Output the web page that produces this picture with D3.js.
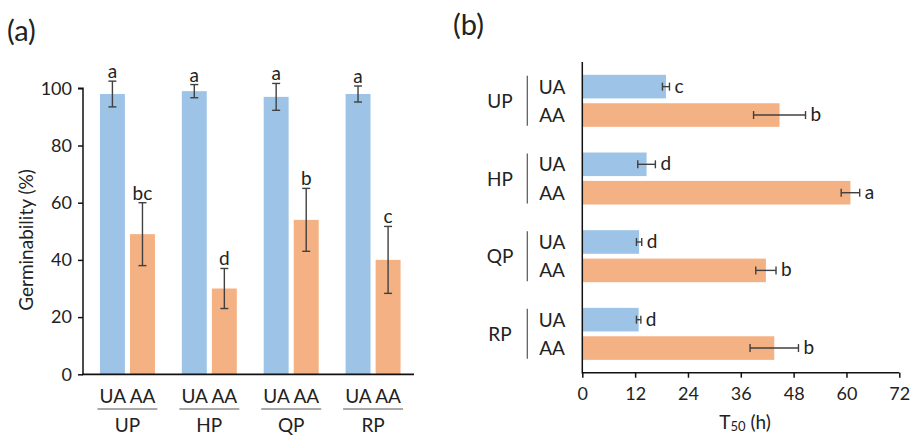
<!DOCTYPE html>
<html>
<head>
<meta charset="utf-8">
<script src="https://cdn.jsdelivr.net/npm/d3@7"></script>
<style>
  html, body { margin: 0; padding: 0; background: #fff; }
  svg { display: block; }
  text { font-family: Lato, "Open Sans", sans-serif; fill: #222; }
</style>
</head>
<body>
<svg id="chart" width="913" height="436"></svg>
<script>
// Seed lots and pre-treatments
const lots = ["UP", "HP", "QP", "RP"];
const treatments = ["UA", "AA"];

// (a) Germinability (%) — mean, error and significance letter per lot
const germUA = [98, 99, 97, 98];
const germUAErr = [4.5, 2.3, 4.7, 2.8];
const germUALetters = ["a", "a", "a", "a"];
const germAA = [49, 30, 54, 40];
const germAAErr = [11, 7, 11, 11.7];
const germAALetters = ["bc", "d", "b", "c"];
const germTicks = [0, 20, 40, 60, 80, 100];

// (b) T50 (h) — mean, error and significance letter per lot
const t50UA = [19, 14.6, 12.9, 12.8];
const t50UAErr = [0.8, 2, 0.6, 0.5];
const t50UALetters = ["c", "d", "d", "d"];
const t50AA = [44.8, 60.9, 41.7, 43.6];
const t50AAErr = [5.9, 2.1, 2.3, 5.5];
const t50AALetters = ["b", "a", "b", "b"];
const t50Ticks = [0, 12, 24, 36, 48, 60, 72];

const colors = { UA: "#9dc3e6", AA: "#f4b183" };
const errColor = "#404040";
const axisColor = "#111";
const FS = 18;

const svg = d3.select("#chart");

function rows(ua, uaErr, uaLab, aa, aaErr, aaLab) {
  const out = [];
  lots.forEach((lot, i) => {
    out.push({ lot, t: "UA", v: ua[i], e: uaErr[i], lab: uaLab[i] });
    out.push({ lot, t: "AA", v: aa[i], e: aaErr[i], lab: aaLab[i] });
  });
  return out;
}

// ---------- Panel (a): vertical bars ----------
{
  const data = rows(germUA, germUAErr, germUALetters, germAA, germAAErr, germAALetters);
  const x0 = d3.scaleBand().domain(lots).range([86.5, 414]).paddingInner(0).paddingOuter(0);
  const x1 = d3.scaleBand().domain(treatments).range([-27.5, 27.5]).paddingInner(0.17);
  const y = d3.scaleLinear().domain([0, 100]).range([374.3, 88.3]);
  const cx = d => x0(d.lot) + x0.bandwidth() / 2;

  const g = svg.append("g");

  g.selectAll("rect.bar").data(data).join("rect")
    .attr("class", "bar")
    .attr("x", d => cx(d) + x1(d.t))
    .attr("width", x1.bandwidth())
    .attr("y", d => y(d.v))
    .attr("height", d => y(0) - y(d.v))
    .attr("fill", d => colors[d.t]);

  const eb = g.selectAll("g.err").data(data).join("g").attr("class", "err")
    .attr("stroke", errColor).attr("stroke-width", 1.4);
  eb.append("line")
    .attr("x1", d => cx(d) + x1(d.t) + x1.bandwidth() / 2)
    .attr("x2", d => cx(d) + x1(d.t) + x1.bandwidth() / 2)
    .attr("y1", d => y(d.v + d.e)).attr("y2", d => y(d.v - d.e));
  [1, -1].forEach(s => {
    eb.append("line")
      .attr("x1", d => cx(d) + x1(d.t) + x1.bandwidth() / 2 - 4)
      .attr("x2", d => cx(d) + x1(d.t) + x1.bandwidth() / 2 + 4)
      .attr("y1", d => y(d.v + s * d.e)).attr("y2", d => y(d.v + s * d.e));
  });

  g.selectAll("text.sig").data(data).join("text")
    .attr("class", "sig")
    .attr("x", d => cx(d) + x1(d.t) + x1.bandwidth() / 2)
    .attr("y", d => y(d.v + d.e) - 3)
    .attr("text-anchor", "middle")
    .attr("font-size", 19)
    .text(d => d.lab);

  // y axis
  const ya = g.append("g").attr("transform", "translate(83,0)")
    .call(d3.axisLeft(y).tickValues(germTicks).tickSize(5).tickPadding(6));
  ya.select(".domain").attr("stroke", axisColor).attr("stroke-width", 1.5).attr("d", `M-5,${y(100)}H0V${y(0)}`);
  ya.selectAll(".tick line").attr("stroke", axisColor).attr("stroke-width", 1.5);
  ya.selectAll(".tick text").attr("font-size", FS).attr("fill", "#222")
    .style("font-family", "Lato, 'Open Sans', sans-serif");

  // x baseline
  g.append("line").attr("x1", 82).attr("x2", 414).attr("y1", y(0)).attr("y2", y(0))
    .attr("stroke", axisColor).attr("stroke-width", 1.8);

  // category labels: treatments, separator line, lot name
  const cat = g.selectAll("g.cat").data(lots).join("g").attr("class", "cat")
    .attr("transform", d => `translate(${x0(d) + x0.bandwidth() / 2},0)`);
  cat.append("text").attr("x", 0).attr("y", 403).attr("text-anchor", "middle")
    .attr("font-size", 19).text(treatments.join(" "));
  cat.append("line").attr("x1", -30).attr("x2", 30).attr("y1", 409).attr("y2", 409)
    .attr("stroke", "#555").attr("stroke-width", 1);
  cat.append("text").attr("x", 0).attr("y", 432).attr("text-anchor", "middle")
    .attr("font-size", 19).text(d => d);

  g.append("text")
    .attr("transform", "translate(33,240) rotate(-90)")
    .attr("text-anchor", "middle").attr("font-size", 19)
    .text("Germinability (%)");

  svg.append("text").attr("x", 7).attr("y", 41).attr("font-size", 29).text("(a)");
}

// ---------- Panel (b): horizontal bars ----------
{
  const data = rows(t50UA, t50UAErr, t50UALetters, t50AA, t50AAErr, t50AALetters);
  const y0 = d3.scaleBand().domain(lots).range([62, 372.7]);
  const y1 = d3.scaleBand().domain(treatments).range([-26, 26]).paddingInner(0.17);
  const x = d3.scaleLinear().domain([0, 72]).range([582.3, 899.3]);
  const cy = d => y0(d.lot) + y0.bandwidth() / 2;
  const mid = d => cy(d) + y1(d.t) + y1.bandwidth() / 2;

  const g = svg.append("g");

  g.selectAll("rect.bar").data(data).join("rect")
    .attr("class", "bar")
    .attr("x", x(0))
    .attr("width", d => x(d.v) - x(0))
    .attr("y", d => cy(d) + y1(d.t))
    .attr("height", y1.bandwidth())
    .attr("fill", d => colors[d.t]);

  const eb = g.selectAll("g.err").data(data).join("g").attr("class", "err")
    .attr("stroke", errColor).attr("stroke-width", 1.4);
  eb.append("line")
    .attr("x1", d => x(d.v - d.e)).attr("x2", d => x(d.v + d.e))
    .attr("y1", mid).attr("y2", mid);
  [1, -1].forEach(s => {
    eb.append("line")
      .attr("x1", d => x(d.v + s * d.e)).attr("x2", d => x(d.v + s * d.e))
      .attr("y1", d => mid(d) - 4).attr("y2", d => mid(d) + 4);
  });

  g.selectAll("text.sig").data(data).join("text")
    .attr("class", "sig")
    .attr("x", d => x(d.v + d.e) + 5)
    .attr("y", d => mid(d) + 6)
    .attr("font-size", 19)
    .text(d => d.lab);

  // x axis
  const xa = g.append("g").attr("transform", "translate(0,372.7)")
    .call(d3.axisBottom(x).tickValues(t50Ticks).tickSize(5).tickPadding(10).tickSizeOuter(0));
  xa.select(".domain").attr("stroke", axisColor).attr("stroke-width", 1.5)
    .attr("d", `M${x(0)},0H${x(72)}`);
  xa.selectAll(".tick line").attr("stroke", axisColor).attr("stroke-width", 1.5);
  xa.selectAll(".tick text").attr("font-size", FS).attr("fill", "#222")
    .style("font-family", "Lato, 'Open Sans', sans-serif");

  // y axis line
  g.append("line").attr("x1", x(0)).attr("x2", x(0)).attr("y1", 62).attr("y2", 373.5)
    .attr("stroke", axisColor).attr("stroke-width", 1.5);

  // category labels
  const cat = g.selectAll("g.cat").data(lots).join("g").attr("class", "cat")
    .attr("transform", d => `translate(0,${y0(d) + y0.bandwidth() / 2})`);
  cat.append("text").attr("x", 500).attr("y", 7).attr("text-anchor", "middle")
    .attr("font-size", 19).text(d => d);
  cat.append("line").attr("x1", 527.3).attr("x2", 527.3).attr("y1", -25).attr("y2", 25)
    .attr("stroke", "#555").attr("stroke-width", 1.2);
  treatments.forEach(t => {
    cat.append("text").attr("x", 552).attr("y", y1(t) + y1.bandwidth() / 2 + 7)
      .attr("text-anchor", "middle").attr("font-size", 19).text(t);
  });

  const title = g.append("text").attr("x", 745).attr("y", 429).attr("text-anchor", "middle")
    .attr("font-size", 19);
  title.append("tspan").text("T");
  title.append("tspan").attr("font-size", 13).attr("dy", 2).text("50");
  title.append("tspan").attr("dy", -2).text(" (h)");

  svg.append("text").attr("x", 453).attr("y", 35).attr("font-size", 29).text("(b)");
}
</script>
</body>
</html>
